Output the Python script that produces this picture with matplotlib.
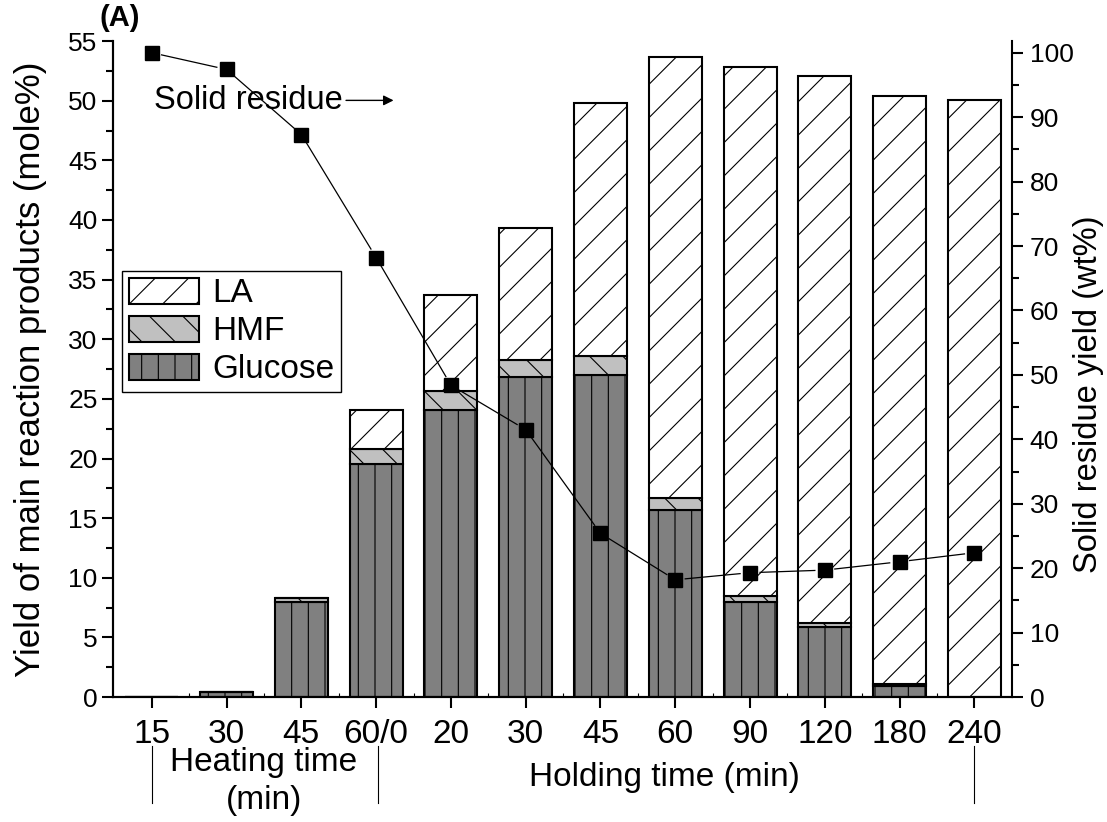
import numpy as np
import matplotlib
matplotlib.use('Agg')
import matplotlib.pyplot as plt
from matplotlib.patches import Patch
from matplotlib.ticker import MultipleLocator, FixedLocator

plt.rcParams['font.family'] = ['Liberation Sans', 'DejaVu Sans']
plt.rcParams['hatch.linewidth'] = 0.8

# data
cats    = ['15', '30', '45', '60/0', '20', '30', '45', '60', '90', '120', '180', '240']
glucose = [0.0, 0.4, 8.0, 19.5, 24.1, 26.8, 27.0, 15.7, 8.0, 5.9, 0.9, 0.0]
hmf     = [0.0, 0.0, 0.3, 1.3, 1.6, 1.5, 1.6, 1.0, 0.5, 0.35, 0.2, 0.0]
la      = [0.0, 0.0, 0.0, 3.3, 8.0, 11.0, 21.2, 37.0, 44.3, 45.8, 49.3, 50.1]
residue = [100.0, 97.4, 87.3, 68.2, 48.4, 41.5, 25.4, 18.2, 19.3, 19.7, 21.0, 22.4]

x = np.arange(len(cats))
glucose = np.array(glucose)
hmf = np.array(hmf)
la = np.array(la)

fig = plt.figure(figsize=(11.07, 8.22), dpi=100)
ax = fig.add_axes([0.102, 0.152, 0.812, 0.798])
ax2 = ax.twinx()

w = 0.71
ax.bar(x, glucose, w, color='#808080', edgecolor='black', lw=1.5, hatch='|', zorder=2)
ax.bar(x, hmf, w, bottom=glucose, color='#c0c0c0', edgecolor='black', lw=1.5, hatch='\\', zorder=2)
ax.bar(x, la, w, bottom=glucose + hmf, color='white', edgecolor='black', lw=1.5, hatch='/', zorder=2)

ax.set_xlim(-0.52, 11.5)
ax.set_ylim(0, 55)
ax2.set_ylim(0, 101.8)

# residue line, segments stop short of the markers (Origin style gaps)
gap = 10
pts = ax2.transData.transform(np.column_stack([x, residue]))
inv = ax2.transData.inverted()
for i in range(len(x) - 1):
    p0, p1 = pts[i], pts[i + 1]
    u = (p1 - p0) / np.hypot(*(p1 - p0))
    seg = inv.transform([p0 + u * gap, p1 - u * gap])
    ax2.plot(seg[:, 0], seg[:, 1], color='black', lw=0.9, zorder=3)
ax2.plot(x, residue, ls='none', marker='s', ms=10, mfc='black', mec='black', zorder=5)

ax.set_xticks(x)
ax.set_xticklabels(cats, fontsize=24)
ax.xaxis.set_minor_locator(FixedLocator(x[:-1] + 0.5))
ax.yaxis.set_major_locator(MultipleLocator(5))
ax.yaxis.set_minor_locator(MultipleLocator(2.5))
ax2.yaxis.set_major_locator(MultipleLocator(10))
ax2.yaxis.set_minor_locator(MultipleLocator(5))

ax.tick_params(axis='x', which='major', length=8, width=1.5, pad=8)
ax.tick_params(axis='x', which='minor', length=3, width=0.8, direction='in')
ax.tick_params(axis='y', which='major', length=8, width=1.5, labelsize=19, pad=3)
ax.tick_params(axis='y', which='minor', length=5, width=1.5)
ax2.tick_params(axis='y', which='major', length=8, width=1.5, labelsize=19, pad=5)
ax2.tick_params(axis='y', which='minor', length=5, width=1.5)

for a in (ax, ax2):
    a.spines['top'].set_visible(False)
    for s in ('left', 'right', 'bottom'):
        a.spines[s].set_linewidth(1.5)
ax.spines['right'].set_visible(False)

ax.set_ylabel('Yield of main reaction products (mole%)', fontsize=25)
ax.yaxis.set_label_coords(-0.073, 0.5)
ax2.set_ylabel('Solid residue yield (wt%)', fontsize=23.5)
ax2.yaxis.set_label_coords(1.068, 0.462)

# group labels under the x axis
tr = ax.get_xaxis_transform()
ax.text(1.5, -0.1, 'Heating time', transform=tr, ha='center', va='center', fontsize=24)
ax.text(1.5, -0.157, '(min)', transform=tr, ha='center', va='center', fontsize=24)
ax.text(6.85, -0.122, 'Holding time (min)', transform=tr, ha='center', va='center', fontsize=24)
for xv in (0, 3.03, 10.99):
    ax.plot([xv, xv], [-0.074, -0.162], transform=tr, color='black', lw=0.8, clip_on=False)

ax2.annotate('', xy=(3.27, 92.6), xytext=(2.56, 92.6),
             arrowprops=dict(arrowstyle='-|>', color='black', lw=1, mutation_scale=15))
ax2.text(2.55, 92.6, 'Solid residue', ha='right', va='center', fontsize=23.5)

fig.text(0.09, 0.978, '(A)', fontsize=21, fontweight='bold', ha='left', va='center')

handles = [Patch(facecolor='white', edgecolor='black', hatch='/', lw=1.5),
           Patch(facecolor='#c0c0c0', edgecolor='black', hatch='\\', lw=1.5),
           Patch(facecolor='#808080', edgecolor='black', hatch='|', lw=1.5)]
leg = ax.legend(handles, ['LA', 'HMF', 'Glucose'], loc='upper left',
                bbox_to_anchor=(0.01, 0.649), fontsize=24, fancybox=False,
                edgecolor='black', handlelength=2.1, handleheight=0.8,
                labelspacing=0.2, borderpad=0.2, handletextpad=0.4,
                borderaxespad=0, framealpha=1)
leg.get_frame().set_linewidth(1.0)

fig.savefig('out.png', dpi=100)
